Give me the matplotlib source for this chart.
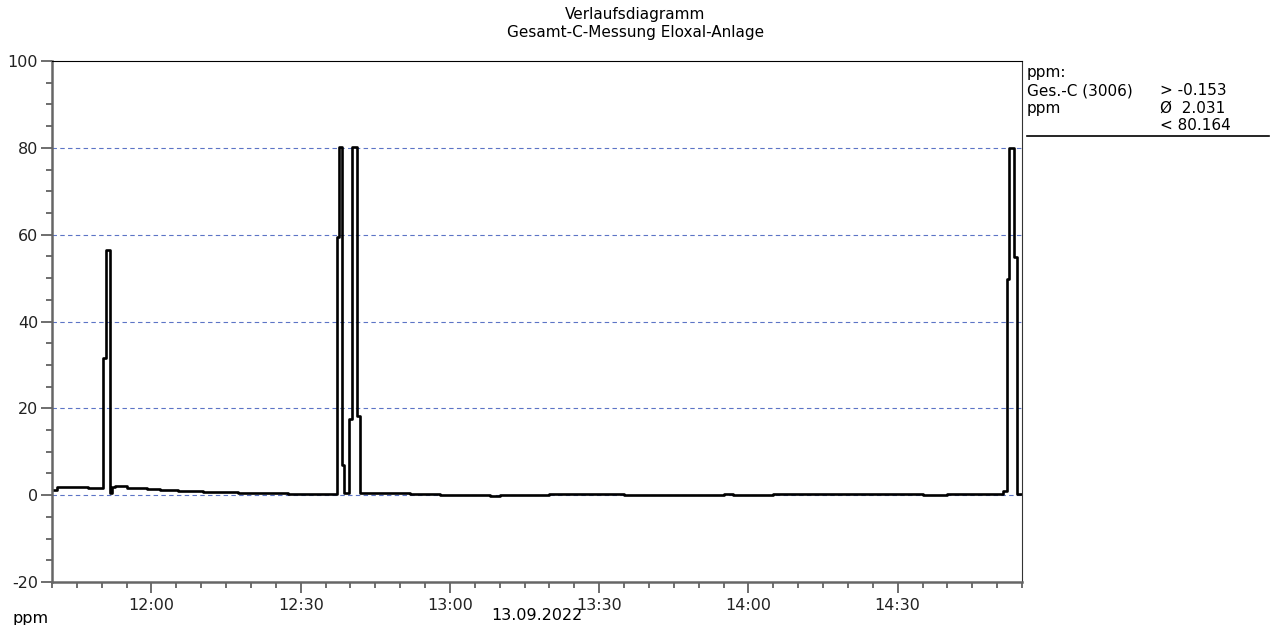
import matplotlib.pyplot as plt
from matplotlib.ticker import MultipleLocator, FuncFormatter

plt.rcParams['axes.unicode_minus'] = False

# Messwerte Ges.-C (3006), ppm, 13.09.2022
zeiten = ["11:40:00", "11:41:00", "11:47:10", "11:50:10", "11:50:50", "11:51:40",
          "11:52:05", "11:52:40", "11:55:05", "11:59:05", "12:01:40", "12:05:25",
          "12:10:25", "12:17:25", "12:27:30", "12:37:20", "12:37:45", "12:38:20",
          "12:38:45", "12:39:45", "12:40:20", "12:41:20", "12:41:50", "12:46:35",
          "12:52:00", "12:58:00", "13:08:00", "13:10:00", "13:20:00", "13:35:00",
          "13:50:00", "13:55:00", "13:57:00", "14:05:00", "14:20:00", "14:35:00",
          "14:40:00", "14:50:20", "14:51:05", "14:51:55", "14:52:20", "14:53:25",
          "14:53:55", "14:55:00"]
werte = [1.3, 1.8, 1.6, 31.5, 56.5, 0.5,
         1.8, 2.1, 1.7, 1.4, 1.2, 1.0,
         0.8, 0.5, 0.2, 59.5, 80.1, 7.0,
         0.5, 17.5, 80.164, 18.3, 0.6, 0.4,
         0.2, 0.05, -0.153, 0.1, 0.2, 0.1,
         0.0, 0.3, 0.1, 0.2, 0.25, 0.1,
         0.2, 0.3, 1.0, 49.8, 80.0, 54.9,
         0.3, 0.3]

def minuten(s):
    h, m, sek = s.split(":")
    return int(h) * 60 + int(m) + int(sek) / 60

x = [minuten(z) for z in zeiten]

fig = plt.figure(figsize=(12.71, 6.25), dpi=100)
ax = fig.add_axes([52 / 1271, 1 - 582 / 625, 970 / 1271, 521 / 625])

ax.plot(x, werte, color='black', linewidth=1.9, drawstyle='steps-post')

ax.set_xlim(minuten("11:40:00"), minuten("14:55:00"))
ax.set_ylim(-20, 100)

# Gitterlinien
for yg in [0, 20, 40, 60, 80]:
    ax.axhline(yg, color='#5c74c6', linestyle=(0, (4, 3)), linewidth=0.8, zorder=0)

ax.yaxis.set_major_locator(MultipleLocator(20))
ax.yaxis.set_minor_locator(MultipleLocator(5))
ax.xaxis.set_major_locator(MultipleLocator(30))
ax.xaxis.set_minor_locator(MultipleLocator(5))
ax.xaxis.set_major_formatter(FuncFormatter(lambda v, p: f"{int(v // 60)}:{int(v % 60):02d}"))

ax.tick_params(axis='both', which='major', length=8, width=1.2, color='#555555',
               labelsize=11.5, labelcolor='#222222')
ax.tick_params(axis='both', which='minor', length=4.5, width=1.2, color='#555555')
ax.tick_params(axis='y', pad=2)
for s in ['left', 'bottom']:
    ax.spines[s].set_color('#666666')
    ax.spines[s].set_linewidth(1.8)
ax.spines['top'].set_color('black')
ax.spines['right'].set_color('#333333')

# Titel und Beschriftungen
fig.text(0.5, 1 - 15 / 625, "Verlaufsdiagramm", ha='center', va='center', fontsize=11)
fig.text(0.5, 1 - 33 / 625, "Gesamt-C-Messung Eloxal-Anlage", ha='center', va='center', fontsize=11)
fig.text(537 / 1271, 1 - 615 / 625, "13.09.2022", ha='center', va='center', fontsize=11.5)
fig.text(12 / 1271, 1 - 618 / 625, "ppm", ha='left', va='center', fontsize=11.5)

# Legende rechts
lx, rx = 1027 / 1271, 1160 / 1271
zeilen = [("ppm:", ""), ("Ges.-C (3006)", "> -0.153"), ("ppm", "Ø  2.031"), ("", "< 80.164")]
for i, (l, r) in enumerate(zeilen):
    yy = 1 - (73 + i * 17.5) / 625
    fig.text(lx, yy, l, ha='left', va='center', fontsize=11)
    fig.text(rx, yy, r, ha='left', va='center', fontsize=11)
fig.add_artist(plt.Line2D([1027 / 1271, 1269 / 1271], [1 - 136 / 625] * 2,
                          color='black', linewidth=1.2))

fig.savefig("out.png", dpi=100)
